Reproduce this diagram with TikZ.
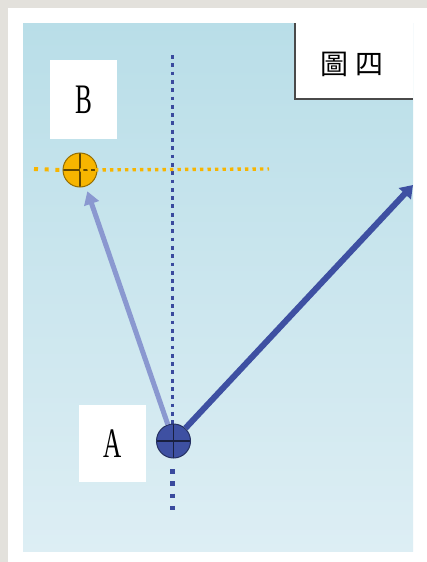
\documentclass[tikz,border=0pt]{standalone}
\usepackage{fontspec}
\setmainfont{Liberation Serif}
\newfontfamily\cjk{Noto Sans CJK TC}
\usetikzlibrary{arrows.meta}
\definecolor{bgtop}{HTML}{B9DEE8}
\definecolor{bgbot}{HTML}{DDEEF4}
\definecolor{frame}{HTML}{E3E1DC}
\definecolor{dotblue}{HTML}{3A4A9E}
\definecolor{amber}{HTML}{F7B500}
\definecolor{lightarr}{HTML}{8A98D0}
\definecolor{darkarr}{HTML}{3E50A2}
\definecolor{edgegray}{HTML}{4A4A4A}
\tikzset{
  labelbox/.style={fill=white, draw=none, inner sep=0pt, font=\fontsize{42}{42}\selectfont},
  marker/.style={circle, minimum size=34pt, inner sep=0pt, draw=#1!60!black, line width=1pt,
    path picture={
      \draw[#1!40!black, line width=1.2pt] (path picture bounding box.north) -- (path picture bounding box.south);
      \draw[#1!40!black, line width=1.2pt] (path picture bounding box.west) -- (path picture bounding box.east);
    }},
  smalldots/.style={line width=3.8pt, dash pattern=on 3.8pt off 4.5pt},
  bigdots/.style={line width=4.5pt, dash pattern=on 4.5pt off 7.8pt},
}
\begin{document}
\begin{tikzpicture}[x=1pt, y=-1pt]
\useasboundingbox (0,0) rectangle (427,562);
% page
\fill[frame] (0,0) rectangle (427,562);
\fill[white] (8,8) rectangle (427,562);
% blue panel
\shade[top color=bgtop, bottom color=bgbot] (23,23) rectangle (413,551);
% title box
\fill[white] (295,23) rectangle (413,99);
\draw[edgegray, line width=1.5pt] (295,23) -- (295,99) -- (413,99);
\node[font=\cjk\fontsize{28}{28}\selectfont] (title) at (352,64) {圖\hspace{8pt}四};
% dotted guide lines
\coordinate (vtop) at (172.5,55);
\coordinate (vbot) at (172.5,512);
\coordinate (hleft) at (34,169);
\coordinate (hright) at (269,169);
\draw[dotblue, smalldots] (vtop) -- (172.5,424);
\draw[dotblue, bigdots] (172.5,469) -- (vbot);
% label boxes
\node[labelbox, minimum width=67pt, minimum height=79pt] (Blabel) at (83.5,99.5) {\raisebox{-4pt}{\scalebox{0.6}[1]{B}}};
\node[labelbox, minimum width=67pt, minimum height=77pt] (Alabel) at (112.5,443.5) {\raisebox{-4pt}{\scalebox{0.6}[1]{A}}};
% markers
\node[marker=amber, fill=amber] (B) at (80,170) {};
\node[marker=darkarr, fill=darkarr] (A) at (173.5,441) {};
\draw[amber, line width=4pt, dash pattern=on 4pt off 6.7pt] (hleft) -- (B.west);
\draw[amber, line width=3.4pt, dash pattern=on 3.4pt off 4.1pt] (B.center) -- (hright);
% arrows
\coordinate (tip) at (413,185);
\draw[lightarr, line width=5pt, -{Triangle[length=13pt, width=15pt]}, shorten >=5pt] (A) -- (B);
\draw[darkarr, line width=6pt, -{Triangle[length=12pt, width=16pt]}] (A) -- (tip);
\end{tikzpicture}
\end{document}
